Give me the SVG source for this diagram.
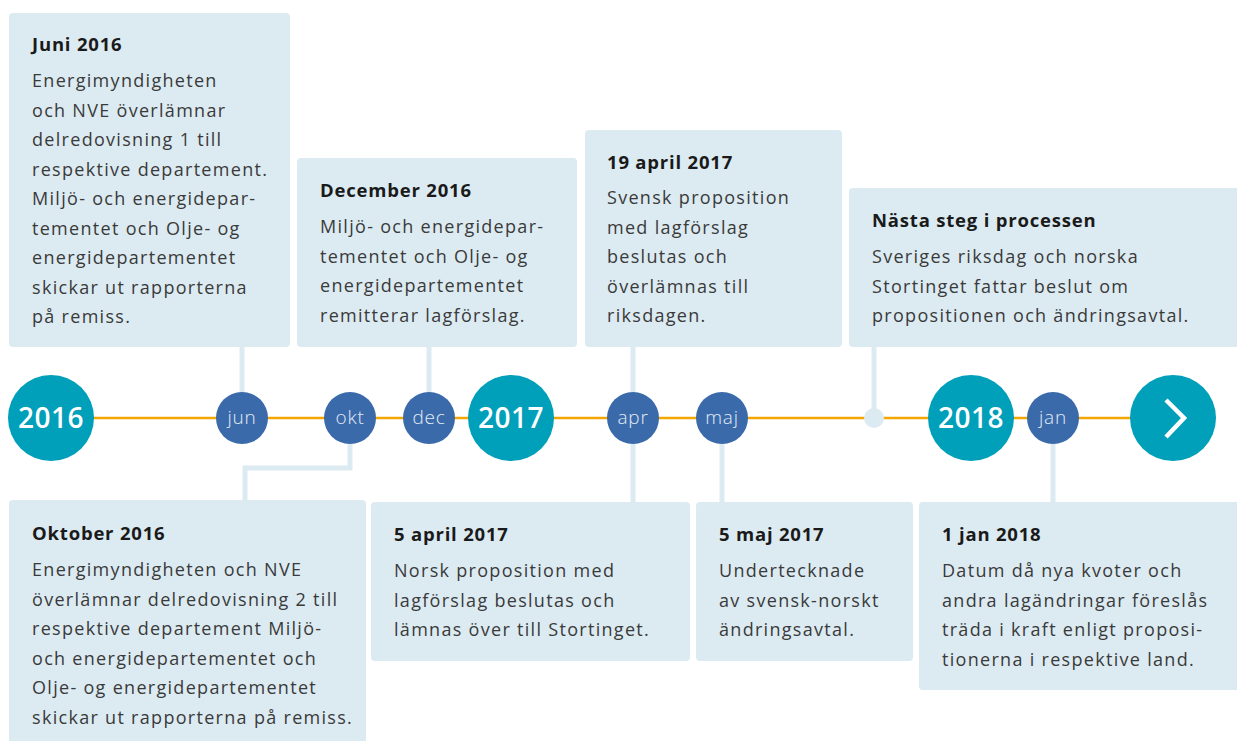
<svg xmlns="http://www.w3.org/2000/svg" width="1237" height="741" viewBox="0 0 1237 741">
  <style>
    .box { fill: #dcebf2; }
    .link { fill: none; stroke: #dcebf2; stroke-width: 5; }
    .axis { stroke: #f4a600; stroke-width: 2.5; }
    .year { fill: #009fba; }
    .month { fill: #3a6aaa; }
    .title { font-family: "Open Sans", "Liberation Sans", sans-serif; font-weight: 700; font-size: 18.5px; fill: #1a1a1a; letter-spacing: 0.8px; }
    .body { font-family: "Open Sans", "Liberation Sans", sans-serif; font-size: 18px; fill: #3a3a3a; letter-spacing: 1.3px; }
    .ylabel { font-family: "Open Sans", "Liberation Sans", sans-serif; font-weight: 600; font-size: 28px; fill: #ffffff; text-anchor: middle; letter-spacing: 0.5px; }
    .mlabel { font-family: "Open Sans", "Liberation Sans", sans-serif; font-weight: 300; font-size: 19px; fill: #e3ecf5; text-anchor: middle; letter-spacing: 0.8px; }
  </style>

  <rect width="1237" height="741" fill="#ffffff"/>

  <!-- connectors between events and the axis -->
  <g id="connectors">
    <line class="axis" x1="51" y1="418" x2="1173" y2="418"/>
    <line class="link" x1="242" y1="345" x2="242" y2="400"/>
    <polyline class="link" points="350,430 350,468 245,468 245,502"/>
    <line class="link" x1="429" y1="345" x2="429" y2="400"/>
    <line class="link" x1="633" y1="345" x2="633" y2="504"/>
    <line class="link" x1="722" y1="430" x2="722" y2="504"/>
    <line class="link" x1="874" y1="345" x2="874" y2="418"/>
    <line class="link" x1="1053" y1="430" x2="1053" y2="504"/>
  </g>

  <!-- event cards above the axis -->
  <g id="card-juni-2016">
    <rect class="box" x="9" y="13" width="281" height="334" rx="4"/>
    <text class="title" x="32" y="51">Juni 2016</text>
    <text class="body" x="32" y="87">Energimyndigheten</text>
    <text class="body" x="32" y="116.5">och NVE överlämnar</text>
    <text class="body" x="32" y="146">delredovisning 1 till</text>
    <text class="body" x="32" y="175.5">respektive departement.</text>
    <text class="body" x="32" y="205">Miljö- och energidepar-</text>
    <text class="body" x="32" y="234.5">tementet och Olje- og</text>
    <text class="body" x="32" y="264">energidepartementet</text>
    <text class="body" x="32" y="293.5">skickar ut rapporterna</text>
    <text class="body" x="32" y="323">på remiss.</text>
  </g>

  <g id="card-december-2016">
    <rect class="box" x="297" y="158" width="280" height="189" rx="4"/>
    <text class="title" x="320" y="197">December 2016</text>
    <text class="body" x="320" y="233">Miljö- och energidepar-</text>
    <text class="body" x="320" y="262.5">tementet och Olje- og</text>
    <text class="body" x="320" y="292">energidepartementet</text>
    <text class="body" x="320" y="321.5">remitterar lagförslag.</text>
  </g>

  <g id="card-19-april-2017">
    <rect class="box" x="585" y="130" width="257" height="217" rx="4"/>
    <text class="title" x="607" y="169">19 april 2017</text>
    <text class="body" x="607" y="204">Svensk proposition</text>
    <text class="body" x="607" y="233.5">med lagförslag</text>
    <text class="body" x="607" y="263">beslutas och</text>
    <text class="body" x="607" y="292.5">överlämnas till</text>
    <text class="body" x="607" y="322">riksdagen.</text>
  </g>

  <g id="card-nasta-steg">
    <rect class="box" x="849" y="188" width="395" height="159" rx="4"/>
    <text class="title" x="872" y="227">Nästa steg i processen</text>
    <text class="body" x="872" y="263">Sveriges riksdag och norska</text>
    <text class="body" x="872" y="292.5">Stortinget fattar beslut om</text>
    <text class="body" x="872" y="322">propositionen och ändringsavtal.</text>
  </g>

  <!-- event cards below the axis -->
  <g id="card-oktober-2016">
    <rect class="box" x="9" y="500" width="357" height="250" rx="4"/>
    <text class="title" x="32" y="540">Oktober 2016</text>
    <text class="body" x="32" y="576">Energimyndigheten och NVE</text>
    <text class="body" x="32" y="605.5">överlämnar delredovisning 2 till</text>
    <text class="body" x="32" y="635">respektive departement Miljö-</text>
    <text class="body" x="32" y="664.5">och energidepartementet och</text>
    <text class="body" x="32" y="694">Olje- og energidepartementet</text>
    <text class="body" x="32" y="723.5">skickar ut rapporterna på remiss.</text>
  </g>

  <g id="card-5-april-2017">
    <rect class="box" x="371" y="502" width="319" height="159" rx="4"/>
    <text class="title" x="394" y="541">5 april 2017</text>
    <text class="body" x="394" y="577">Norsk proposition med</text>
    <text class="body" x="394" y="606.5">lagförslag beslutas och</text>
    <text class="body" x="394" y="636">lämnas över till Stortinget.</text>
  </g>

  <g id="card-5-maj-2017">
    <rect class="box" x="696" y="502" width="217" height="159" rx="4"/>
    <text class="title" x="719" y="541">5 maj 2017</text>
    <text class="body" x="719" y="577">Undertecknade</text>
    <text class="body" x="719" y="606.5">av svensk-norskt</text>
    <text class="body" x="719" y="636">ändringsavtal.</text>
  </g>

  <g id="card-1-jan-2018">
    <rect class="box" x="919" y="502" width="325" height="188" rx="4"/>
    <text class="title" x="942" y="541">1 jan 2018</text>
    <text class="body" x="942" y="577">Datum då nya kvoter och</text>
    <text class="body" x="942" y="606.5">andra lagändringar föreslås</text>
    <text class="body" x="942" y="636">träda i kraft enligt proposi-</text>
    <text class="body" x="942" y="665.5">tionerna i respektive land.</text>
  </g>

  <!-- axis markers -->
  <g id="year-2016">
    <circle class="year" cx="51" cy="418" r="43"/>
    <text class="ylabel" x="51" y="428">2016</text>
  </g>
  <g id="month-jun">
    <circle class="month" cx="242" cy="418" r="26"/>
    <text class="mlabel" x="242" y="424">jun</text>
  </g>
  <g id="month-okt">
    <circle class="month" cx="350" cy="418" r="26"/>
    <text class="mlabel" x="350" y="424">okt</text>
  </g>
  <g id="month-dec">
    <circle class="month" cx="429" cy="418" r="26"/>
    <text class="mlabel" x="429" y="424">dec</text>
  </g>
  <g id="year-2017">
    <circle class="year" cx="511" cy="418" r="43"/>
    <text class="ylabel" x="511" y="428">2017</text>
  </g>
  <g id="month-apr">
    <circle class="month" cx="633" cy="418" r="26"/>
    <text class="mlabel" x="633" y="424">apr</text>
  </g>
  <g id="month-maj">
    <circle class="month" cx="722" cy="418" r="26"/>
    <text class="mlabel" x="722" y="424">maj</text>
  </g>
  <g id="next-step-dot">
    <circle cx="874" cy="418" r="10" fill="#dcebf2"/>
  </g>
  <g id="year-2018">
    <circle class="year" cx="971" cy="418" r="43"/>
    <text class="ylabel" x="971" y="428">2018</text>
  </g>
  <g id="month-jan">
    <circle class="month" cx="1053" cy="418" r="26"/>
    <text class="mlabel" x="1053" y="424">jan</text>
  </g>
  <g id="continue-arrow">
    <circle class="year" cx="1173" cy="418" r="43"/>
    <polyline points="1166,400 1184,418 1166,437" fill="none" stroke="#ffffff" stroke-width="4.5"/>
  </g>
</svg>
